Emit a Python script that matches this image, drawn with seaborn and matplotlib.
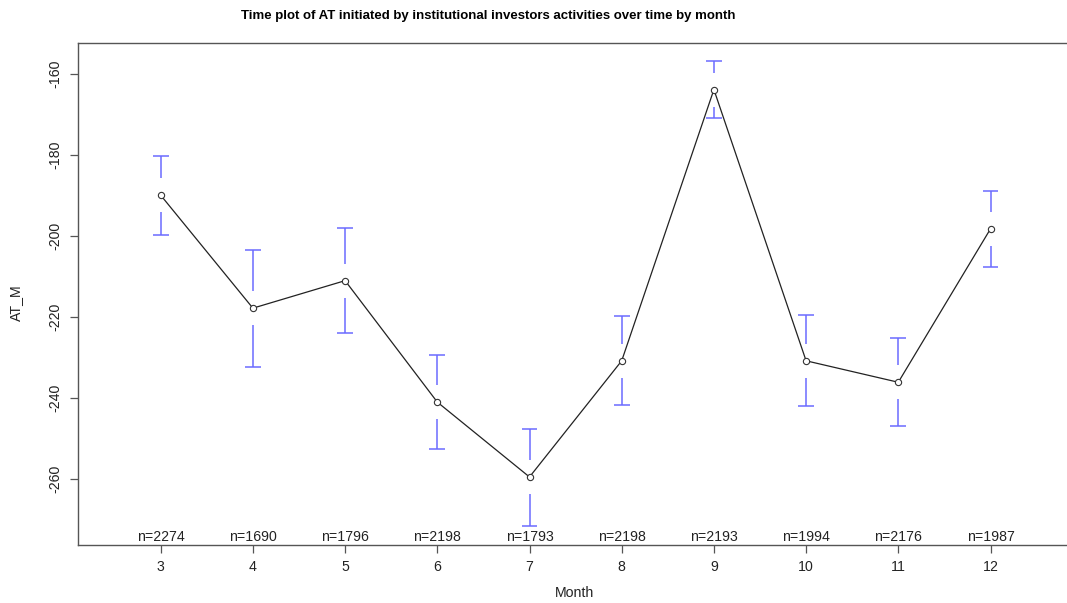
import matplotlib
matplotlib.use("Agg")
import matplotlib.pyplot as plt
import matplotlib.transforms as mtransforms
import seaborn as sns
import pandas as pd
import numpy as np

months = [3, 4, 5, 6, 7, 8, 9, 10, 11, 12]
means = [-190.0, -217.9, -211.1, -241.1, -259.6, -230.9, -163.9, -230.9, -236.2, -198.3]
upper = [-180.4, -203.6, -198.2, -229.4, -247.8, -219.8, -156.9, -219.7, -225.3, -189.0]
lower = [-199.8, -232.5, -224.0, -252.8, -271.7, -241.8, -170.9, -242.1, -247.1, -207.8]
counts = [2274, 1690, 1796, 2198, 1793, 2198, 2193, 1994, 2176, 1987]
yticks = [-160, -180, -200, -220, -240, -260]

sns.set_theme(style="white")
plt.rcParams['font.family'] = ['Liberation Sans', 'DejaVu Sans']

W, H = 1067, 603
fig = plt.figure(figsize=(W / 100, H / 100), dpi=100)
left_px, right_px, top_px, bot_px = 78, 1085, 43, 545
ax = fig.add_axes([left_px / W, (H - bot_px) / H, (right_px - left_px) / W, (bot_px - top_px) / H])

df = pd.DataFrame({"Month": months, "AT_M": means})

# error bars with gap around the point
gap = 4.2
cap = 0.085
bar_col = "#6b6bff"
for m, mu, lo, hi in zip(months, means, lower, upper):
    if hi - mu > gap:
        ax.vlines(m, mu + gap, hi, color=bar_col, lw=1.1)
    if mu - lo > gap:
        ax.vlines(m, lo, mu - gap, color=bar_col, lw=1.1)
    ax.hlines([lo, hi], m - cap, m + cap, color=bar_col, lw=1.1)

sns.lineplot(data=df, x="Month", y="AT_M", ax=ax, color="#222222", lw=0.9,
             marker="o", markersize=4.5, markerfacecolor="white",
             markeredgecolor="#333333", markeredgewidth=0.8)

px_per_month = 92.2
x3_px = 160.7
ax.set_xlim(3 - (x3_px - left_px) / px_per_month, 3 + (right_px - x3_px) / px_per_month)
ax.set_ylim(-276.4, -152.4)

fs = 10.2
ax.set_xticks(months)
ax.set_xticklabels([str(m) for m in months], fontsize=fs, color="#222222")
ax.set_yticks(yticks)
ax.set_yticklabels([str(v) for v in yticks], fontsize=fs, color="#222222",
                   rotation=90, va="center")
ax.tick_params(axis="both", direction="out", length=6, width=0.9, color="#555555",
               bottom=True, left=True)
ax.tick_params(axis="x", pad=5)
ax.tick_params(axis="y", pad=5)

for side in ["left", "bottom", "top"]:
    ax.spines[side].set_visible(True)
    ax.spines[side].set_color("#555555")
    ax.spines[side].set_linewidth(1.0)
ax.spines["right"].set_visible(False)

ax.set_xlabel("Month", fontsize=fs, color="#222222")
ax.set_ylabel("AT_M", fontsize=fs, color="#222222")
ax.xaxis.set_label_coords((575 - left_px) / (right_px - left_px), -(586 - bot_px) / (bot_px - top_px))
ax.yaxis.set_label_coords(-(left_px - 23) / (right_px - left_px), (bot_px - 303) / (bot_px - top_px))

trans = mtransforms.blended_transform_factory(ax.transData, ax.transAxes)
for m, n in zip(months, counts):
    ax.text(m, 0.001, f"n={n}", transform=trans, ha="center", va="bottom",
            fontsize=fs, color="#222222")

fig.text(488 / W, 1 - 16 / H, "Time plot of AT initiated by institutional investors activities over time by month",
         ha="center", va="center", fontsize=9.5, fontweight="bold", color="black")

fig.savefig("out.png", dpi=100, facecolor="white")
